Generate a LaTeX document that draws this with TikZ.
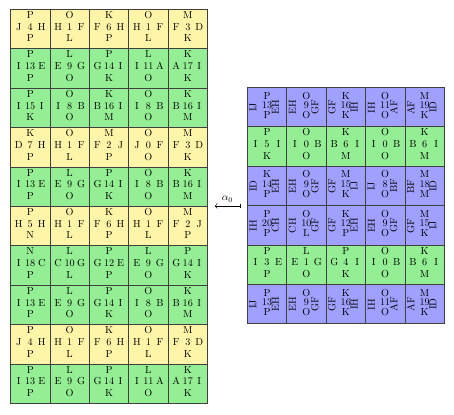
\documentclass[tikz,border=0pt]{standalone}
\usepackage{amsmath}
\usetikzlibrary{arrows.meta}

\definecolor{tileyellow}{RGB}{255,245,168}
\definecolor{tilegreen}{RGB}{148,238,148}
\definecolor{tileblue}{RGB}{160,160,255}

\tikzset{
    tilebox/.style={draw=black!75, line width=0.5pt, minimum size=1.36cm, inner sep=0pt},
    tiletext/.style={anchor=base, inner sep=0pt},
    tileturn/.style={rotate=90, inner sep=0pt},
}

% flat tile: name, x, y, fill, top, left, number, right, bottom
\newcommand{\tile}[9]{%
    \node[tilebox, fill=#4] (#1) at (#2,#3) {};
    \node[tiletext, yshift=-0.045cm] (#1-n) at (#1.center) {#7};
    \node[tiletext, yshift=0.362cm] (#1-t) at (#1.center) {#5};
    \node[tiletext, yshift=-0.445cm] (#1-b) at (#1.center) {#9};
    \node[tiletext, xshift=-11.3pt] (#1-l) at (#1-n.base) {#6};
    \node[tiletext, xshift=11.3pt] (#1-r) at (#1-n.base) {#8};
}

% turned tile: the side labels stand on end
\newcommand{\ttile}[9]{%
    \node[tilebox, fill=#4] (#1) at (#2,#3) {};
    \node[tiletext, yshift=-0.06cm] (#1-n) at (#1.center) {#7};
    \node[tiletext, yshift=0.27cm] (#1-t) at (#1.center) {#5};
    \node[tiletext, yshift=-0.39cm] (#1-b) at (#1.center) {#9};
    \node[xshift=-0.48cm, yshift=-0.07cm, tileturn] (#1-l) at (#1-n.center) {#6};
    \node[xshift=0.29cm, yshift=-0.06cm, tileturn] (#1-r) at (#1-n.center) {#8};
}

\begin{document}
\begin{tikzpicture}[x=1.36cm, y=1.36cm]
    \useasboundingbox (0,0) rectangle (11.523,10.508);

    % left grid
    \begin{scope}[shift={(0.267,0.272)}]
        \tile{L1-1}{0.5}{9.5}{tileyellow}{P}{J}{4}{H}{P}
        \tile{L1-2}{1.5}{9.5}{tileyellow}{O}{H}{1}{F}{L}
        \tile{L1-3}{2.5}{9.5}{tileyellow}{K}{F}{6}{H}{P}
        \tile{L1-4}{3.5}{9.5}{tileyellow}{O}{H}{1}{F}{L}
        \tile{L1-5}{4.5}{9.5}{tileyellow}{M}{F}{3}{D}{K}

        \tile{L2-1}{0.5}{8.5}{tilegreen}{P}{I}{13}{E}{P}
        \tile{L2-2}{1.5}{8.5}{tilegreen}{L}{E}{9}{G}{O}
        \tile{L2-3}{2.5}{8.5}{tilegreen}{P}{G}{14}{I}{K}
        \tile{L2-4}{3.5}{8.5}{tilegreen}{L}{I}{11}{A}{O}
        \tile{L2-5}{4.5}{8.5}{tilegreen}{K}{A}{17}{I}{K}

        \tile{L3-1}{0.5}{7.5}{tilegreen}{P}{I}{15}{I}{K}
        \tile{L3-2}{1.5}{7.5}{tilegreen}{O}{I}{8}{B}{O}
        \tile{L3-3}{2.5}{7.5}{tilegreen}{K}{B}{16}{I}{M}
        \tile{L3-4}{3.5}{7.5}{tilegreen}{O}{I}{8}{B}{O}
        \tile{L3-5}{4.5}{7.5}{tilegreen}{K}{B}{16}{I}{M}

        \tile{L4-1}{0.5}{6.5}{tileyellow}{K}{D}{7}{H}{P}
        \tile{L4-2}{1.5}{6.5}{tileyellow}{O}{H}{1}{F}{L}
        \tile{L4-3}{2.5}{6.5}{tileyellow}{M}{F}{2}{J}{P}
        \tile{L4-4}{3.5}{6.5}{tileyellow}{O}{J}{0}{F}{O}
        \tile{L4-5}{4.5}{6.5}{tileyellow}{M}{F}{3}{D}{K}

        \tile{L5-1}{0.5}{5.5}{tilegreen}{P}{I}{13}{E}{P}
        \tile{L5-2}{1.5}{5.5}{tilegreen}{L}{E}{9}{G}{O}
        \tile{L5-3}{2.5}{5.5}{tilegreen}{P}{G}{14}{I}{K}
        \tile{L5-4}{3.5}{5.5}{tilegreen}{O}{I}{8}{B}{O}
        \tile{L5-5}{4.5}{5.5}{tilegreen}{K}{B}{16}{I}{M}

        \tile{L6-1}{0.5}{4.5}{tileyellow}{P}{H}{5}{H}{N}
        \tile{L6-2}{1.5}{4.5}{tileyellow}{O}{H}{1}{F}{L}
        \tile{L6-3}{2.5}{4.5}{tileyellow}{K}{F}{6}{H}{P}
        \tile{L6-4}{3.5}{4.5}{tileyellow}{O}{H}{1}{F}{L}
        \tile{L6-5}{4.5}{4.5}{tileyellow}{M}{F}{2}{J}{P}

        \tile{L7-1}{0.5}{3.5}{tilegreen}{N}{I}{18}{C}{P}
        \tile{L7-2}{1.5}{3.5}{tilegreen}{L}{C}{10}{G}{L}
        \tile{L7-3}{2.5}{3.5}{tilegreen}{P}{G}{12}{E}{P}
        \tile{L7-4}{3.5}{3.5}{tilegreen}{L}{E}{9}{G}{O}
        \tile{L7-5}{4.5}{3.5}{tilegreen}{P}{G}{14}{I}{K}

        \tile{L8-1}{0.5}{2.5}{tilegreen}{P}{I}{13}{E}{P}
        \tile{L8-2}{1.5}{2.5}{tilegreen}{L}{E}{9}{G}{O}
        \tile{L8-3}{2.5}{2.5}{tilegreen}{P}{G}{14}{I}{K}
        \tile{L8-4}{3.5}{2.5}{tilegreen}{O}{I}{8}{B}{O}
        \tile{L8-5}{4.5}{2.5}{tilegreen}{K}{B}{16}{I}{M}

        \tile{L9-1}{0.5}{1.5}{tileyellow}{P}{J}{4}{H}{P}
        \tile{L9-2}{1.5}{1.5}{tileyellow}{O}{H}{1}{F}{L}
        \tile{L9-3}{2.5}{1.5}{tileyellow}{K}{F}{6}{H}{P}
        \tile{L9-4}{3.5}{1.5}{tileyellow}{O}{H}{1}{F}{L}
        \tile{L9-5}{4.5}{1.5}{tileyellow}{M}{F}{3}{D}{K}

        \tile{L10-1}{0.5}{0.5}{tilegreen}{P}{I}{13}{E}{P}
        \tile{L10-2}{1.5}{0.5}{tilegreen}{L}{E}{9}{G}{O}
        \tile{L10-3}{2.5}{0.5}{tilegreen}{P}{G}{14}{I}{K}
        \tile{L10-4}{3.5}{0.5}{tilegreen}{L}{I}{11}{A}{O}
        \tile{L10-5}{4.5}{0.5}{tilegreen}{K}{A}{17}{I}{K}
    \end{scope}

    % right grid
    \begin{scope}[shift={(6.277,2.292)}]
        \ttile{R1-1}{0.5}{5.5}{tileblue}{P}{IJ}{13}{EH}{P}
        \ttile{R1-2}{1.5}{5.5}{tileblue}{O}{EH}{9}{GF}{O}
        \ttile{R1-3}{2.5}{5.5}{tileblue}{K}{GF}{16}{IH}{K}
        \ttile{R1-4}{3.5}{5.5}{tileblue}{O}{IH}{11}{AF}{O}
        \ttile{R1-5}{4.5}{5.5}{tileblue}{M}{AF}{19}{ID}{K}

        \tile{R2-1}{0.5}{4.5}{tilegreen}{P}{I}{5}{I}{K}
        \tile{R2-2}{1.5}{4.5}{tilegreen}{O}{I}{0}{B}{O}
        \tile{R2-3}{2.5}{4.5}{tilegreen}{K}{B}{6}{I}{M}
        \tile{R2-4}{3.5}{4.5}{tilegreen}{O}{I}{0}{B}{O}
        \tile{R2-5}{4.5}{4.5}{tilegreen}{K}{B}{6}{I}{M}

        \ttile{R3-1}{0.5}{3.5}{tileblue}{K}{ID}{14}{EH}{P}
        \ttile{R3-2}{1.5}{3.5}{tileblue}{O}{EH}{9}{GF}{O}
        \ttile{R3-3}{2.5}{3.5}{tileblue}{M}{GF}{15}{IJ}{K}
        \ttile{R3-4}{3.5}{3.5}{tileblue}{O}{IJ}{8}{BF}{O}
        \ttile{R3-5}{4.5}{3.5}{tileblue}{M}{BF}{18}{ID}{M}

        \ttile{R4-1}{0.5}{2.5}{tileblue}{P}{IH}{20}{CH}{P}
        \ttile{R4-2}{1.5}{2.5}{tileblue}{O}{CH}{10}{GF}{L}
        \ttile{R4-3}{2.5}{2.5}{tileblue}{K}{GF}{12}{EH}{P}
        \ttile{R4-4}{3.5}{2.5}{tileblue}{O}{EH}{9}{GF}{O}
        \ttile{R4-5}{4.5}{2.5}{tileblue}{M}{GF}{15}{IJ}{K}

        \tile{R5-1}{0.5}{1.5}{tilegreen}{P}{I}{3}{E}{P}
        \tile{R5-2}{1.5}{1.5}{tilegreen}{L}{E}{1}{G}{O}
        \tile{R5-3}{2.5}{1.5}{tilegreen}{P}{G}{4}{I}{K}
        \tile{R5-4}{3.5}{1.5}{tilegreen}{O}{I}{0}{B}{O}
        \tile{R5-5}{4.5}{1.5}{tilegreen}{K}{B}{6}{I}{M}

        \ttile{R6-1}{0.5}{0.5}{tileblue}{P}{IJ}{13}{EH}{P}
        \ttile{R6-2}{1.5}{0.5}{tileblue}{O}{EH}{9}{GF}{O}
        \ttile{R6-3}{2.5}{0.5}{tileblue}{K}{GF}{16}{IH}{K}
        \ttile{R6-4}{3.5}{0.5}{tileblue}{O}{IH}{11}{AF}{O}
        \ttile{R6-5}{4.5}{0.5}{tileblue}{M}{AF}{19}{ID}{K}
    \end{scope}

    % the map between them
    \coordinate (mapfrom) at (6.09,5.28);
    \coordinate (mapto) at (5.457,5.28);
    \draw[|->] (mapfrom) -- node[above, inner sep=3.5pt] (alpha) {$\alpha_0$} (mapto);
\end{tikzpicture}
\end{document}
